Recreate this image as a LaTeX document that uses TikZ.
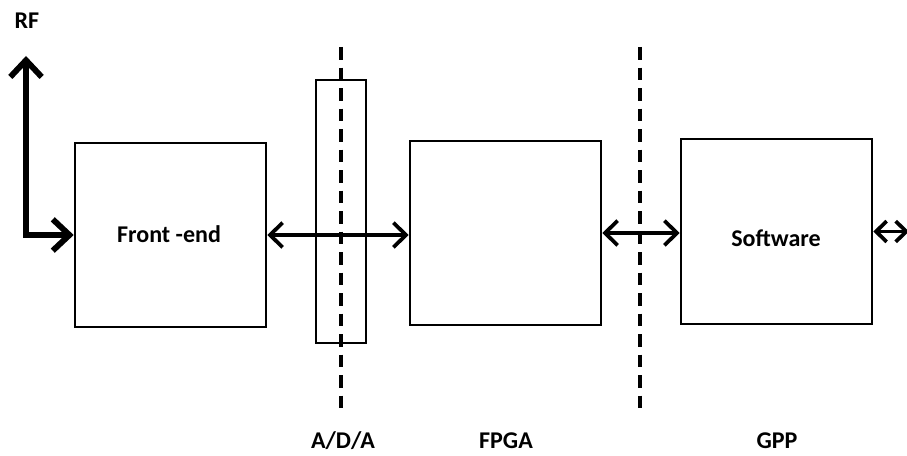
\documentclass[tikz,border=0pt]{standalone}
\usepackage{fontspec}
\setmainfont{Carlito}
\usetikzlibrary{arrows.meta}

\tikzset{
	block/.style={draw,line width=2.2pt,inner sep=0pt},
	biarrow/.style={line width=3.2pt,{Straight Barb[length=3.8mm,width=7.4mm]}-{Straight Barb[length=3.8mm,width=7.4mm]}},
	smallarrow/.style={line width=3.2pt,{Straight Barb[length=3.2mm,width=6.2mm]}-{Straight Barb[length=3.2mm,width=6.2mm]}},
	rfarrow/.style={line width=5pt,line join=miter,{Straight Barb[length=5mm,width=9.4mm]}-{Straight Barb[length=5mm,width=9.4mm]}},
	divider/.style={line width=3pt,dash pattern=on 11pt off 6.5pt},
	lbl/.style={font=\fontsize{20.5}{24}\selectfont\bfseries}
}

\begin{document}
\begin{tikzpicture}[x=0.03cm,y=-0.03cm]
	\useasboundingbox (0,0) rectangle (907,456);

	% the three blocks and the converter strip
	\node[block,minimum width=5.73cm,minimum height=5.52cm] (fe) at (170.5,235) {};
	\node[block,minimum width=1.5cm,minimum height=7.89cm] (ada) at (341,211.5) {};
	\node[block,minimum width=5.73cm,minimum height=5.52cm] (fpga) at (505.5,233) {};
	\node[block,minimum width=5.73cm,minimum height=5.55cm] (sw) at (776.5,231.5) {};
	\node[lbl] (fetext) at (169,234) {Front -end};
	\node[lbl] (swtext) at (776,238) {Software};

	% boundaries
	\coordinate (d1top) at (341,47);
	\coordinate (d1bot) at (341,416);
	\coordinate (d2top) at (640,47);
	\coordinate (d2bot) at (640,416);
	\draw[divider] (d1top) -- (d1bot);
	\draw[divider] (d2top) -- (d2bot);

	% links
	\coordinate (rf) at (26,56);
	\coordinate (out) at (909,231);
	\draw[rfarrow] (rf) |- (fe.west);
	\draw[biarrow] (fe.east) -- (fe.east -| fpga.west);
	\draw[biarrow] (fpga.east) -- (fpga.east -| sw.west);
	\draw[smallarrow] (sw.east) -- (sw.east -| out);

	% labels
	\node[lbl] (rflbl) at (27,21) {RF};
	\node[lbl] (adalbl) at (343,441) {A/D/A};
	\node[lbl] (fpgalbl) at (506,441) {FPGA};
	\node[lbl] (gpplbl) at (777,441) {GPP};
\end{tikzpicture}
\end{document}
